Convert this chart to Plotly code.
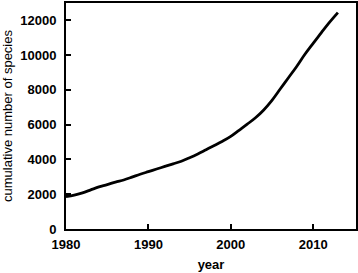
import plotly.graph_objects as go

years = list(range(1980, 2014))
species = [1870, 1950, 2080, 2250, 2420, 2550, 2700, 2820, 2980, 3150,
           3300, 3450, 3600, 3750, 3900, 4100, 4320, 4560, 4800, 5050,
           5330, 5680, 6030, 6400, 6850, 7400, 8050, 8700, 9350, 10050,
           10680, 11300, 11900, 12450]
x_ticks = [1980, 1990, 2000, 2010]
y_ticks = [0, 2000, 4000, 6000, 8000, 10000, 12000]

fig = go.Figure(go.Scatter(x=years, y=species, mode="lines",
                           line=dict(color="black", width=2.8, shape="spline")))
fig.update_layout(
    width=358, height=273, margin=dict(l=66, r=2, t=3, b=44),
    plot_bgcolor="white", paper_bgcolor="white", showlegend=False,
    font=dict(family="Liberation Sans, Arial", color="black", size=13),
)
fig.update_xaxes(range=[1980, 2015.2], tickvals=x_ticks, automargin=False,
                 ticktext=[f"<b>{v}</b>" for v in x_ticks],
                 ticks="inside", ticklen=5, ticklabelstandoff=2,
                 tickwidth=1.5, tickcolor="black", showline=True, linecolor="black",
                 linewidth=2, mirror=True, showgrid=False, zeroline=False,
                 tickfont=dict(size=13, family="Liberation Sans, Arial"),
                 title=dict(text="<b>year</b>", font=dict(size=13), standoff=9))
fig.update_yaxes(range=[0, 13000], tickvals=y_ticks, automargin=False,
                 ticktext=[f"<b>{v}</b>" for v in y_ticks],
                 ticks="inside", ticklen=5, ticklabelstandoff=5,
                 tickwidth=1.5, tickcolor="black", showline=True, linecolor="black",
                 linewidth=2, mirror=True, showgrid=False, zeroline=False,
                 tickfont=dict(size=13, family="Liberation Sans, Arial"),
                 title=dict(text="cumulative number of species", font=dict(size=13), standoff=10))
fig.write_html("out.html", config={"displayModeBar": False},
               post_script="document.body.style.margin='0';")
